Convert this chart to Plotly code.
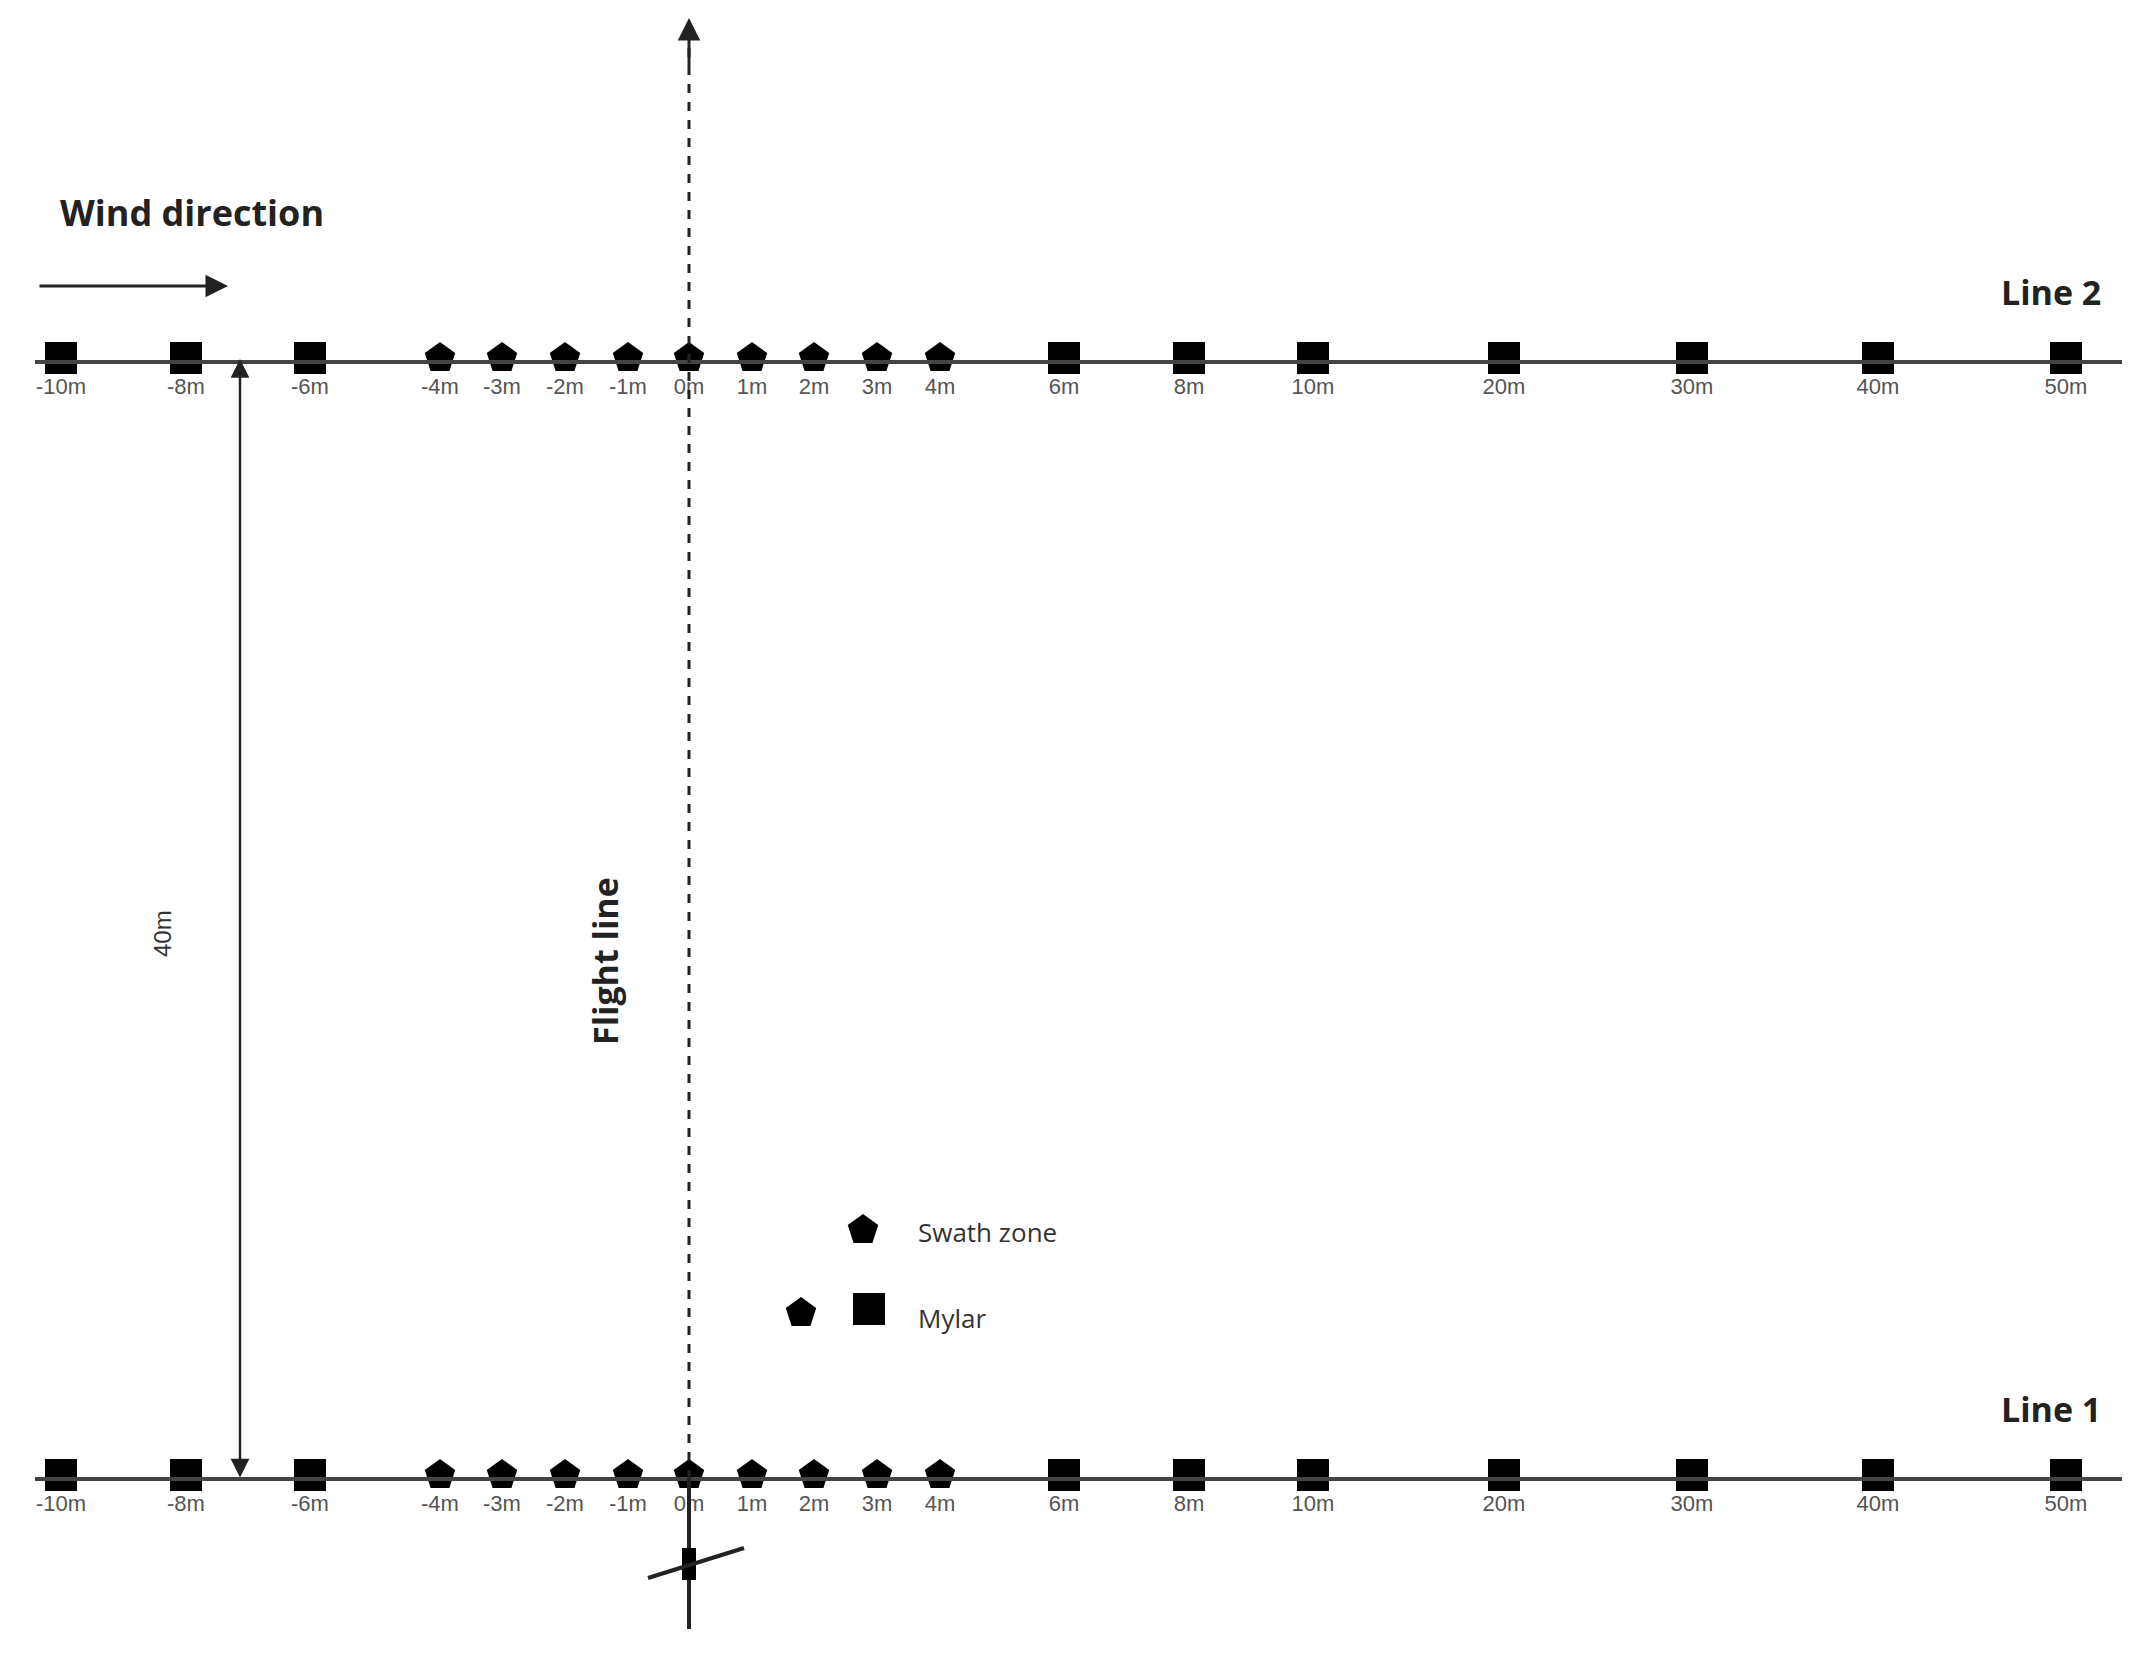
import plotly.graph_objects as go

# Sampling stations (distance from flight line, m)
stations = [-10, -8, -6, -4, -3, -2, -1, 0, 1, 2, 3, 4, 6, 8, 10, 20, 30, 40, 50]
station_labels = [f"{s}m" for s in stations]
station_type = ["Mylar"] * 3 + ["Swath"] * 9 + ["Mylar"] * 7
# schematic (not to scale) horizontal placement of each station on the canvas
station_pos = [53, 178, 302, 432, 494, 557, 620, 681, 744, 806, 869, 932,
               1056, 1181, 1305, 1496, 1684, 1870, 2058]
lines = ["Line 2", "Line 1"]
line_y = [354, 1471]

W, H = 2136, 1653
fig = go.Figure()

for name, ly in zip(lines, line_y):
    fig.add_shape(type="line", x0=27, x1=2114, y0=ly, y1=ly,
                  line=dict(color="#444", width=4))
    for sym, t in [("square", "Mylar"), ("pentagon", "Swath")]:
        xs = [p for p, k in zip(station_pos, station_type) if k == t]
        fig.add_trace(go.Scatter(x=xs, y=[ly - 4] * len(xs), mode="markers",
                                 marker=dict(symbol=sym, size=32, color="black"),
                                 showlegend=False, hoverinfo="skip"))
    fig.add_trace(go.Scatter(x=station_pos, y=[ly + 26] * len(stations), mode="text",
                             text=station_labels,
                             textfont=dict(family="Liberation Sans Narrow, Arial", size=22, color="#555"),
                             showlegend=False, hoverinfo="skip"))
    fig.add_annotation(x=2095, y=ly - 70, text=f"<b>{name}</b>", showarrow=False,
                       xanchor="right", font=dict(family="Open Sans", size=34, color="#222"))

# flight line
fig.add_shape(type="line", x0=681, x1=681, y0=40, y1=1471,
              line=dict(color="#222", width=3, dash="dash"))
fig.add_annotation(x=681, y=10, ax=681, ay=60, xref="x", yref="y", axref="x", ayref="y",
                   text="", showarrow=True, arrowhead=2, arrowsize=1.5, arrowwidth=3, arrowcolor="#222")
fig.add_shape(type="line", x0=681, x1=681, y0=1471, y1=1621, line=dict(color="#222", width=4))
fig.add_shape(type="line", x0=681, x1=681, y0=1540, y1=1572, line=dict(color="black", width=14))
fig.add_shape(type="line", x0=640, x1=736, y0=1570, y1=1540, line=dict(color="#222", width=4))
fig.add_annotation(x=597, y=953, text="<b>Flight line</b>", textangle=-90, showarrow=False,
                   font=dict(family="Open Sans", size=34, color="#222"))

# 40 m distance
fig.add_annotation(x=232, y=351, ax=232, ay=1471, xref="x", yref="y", axref="x", ayref="y",
                   text="", showarrow=True, arrowhead=2, arrowside="end+start",
                   arrowsize=1.5, arrowwidth=2.5, arrowcolor="#222")
fig.add_annotation(x=154, y=926, text="40m", textangle=-90, showarrow=False,
                   font=dict(family="Liberation Sans Narrow, Arial", size=24, color="#333"))

# wind direction
fig.add_annotation(x=50, y=204, text="<b>Wind direction</b>", showarrow=False, xanchor="left",
                   font=dict(family="Open Sans", size=36, color="#222"))
fig.add_annotation(x=220, y=278, ax=30, ay=278, xref="x", yref="y", axref="x", ayref="y",
                   text="", showarrow=True, arrowhead=2, arrowsize=1.5, arrowwidth=3, arrowcolor="#222")

# legend
fig.add_trace(go.Scatter(x=[855, 793], y=[1222, 1305], mode="markers",
                         marker=dict(symbol="pentagon", size=32, color="black"),
                         showlegend=False, hoverinfo="skip"))
fig.add_trace(go.Scatter(x=[861], y=[1301], mode="markers",
                         marker=dict(symbol="square", size=32, color="black"),
                         showlegend=False, hoverinfo="skip"))
fig.add_annotation(x=908, y=1224, text="Swath zone", showarrow=False, xanchor="left",
                   font=dict(family="Open Sans", size=26, color="#333"))
fig.add_annotation(x=908, y=1310, text="Mylar", showarrow=False, xanchor="left",
                   font=dict(family="Open Sans", size=26, color="#333"))

fig.update_layout(width=W, height=H, margin=dict(l=0, r=0, t=0, b=0),
                  paper_bgcolor="white", plot_bgcolor="white",
                  xaxis=dict(range=[0, W], visible=False, fixedrange=True),
                  yaxis=dict(range=[H, 0], visible=False, fixedrange=True))
fig.write_html("out.html")
